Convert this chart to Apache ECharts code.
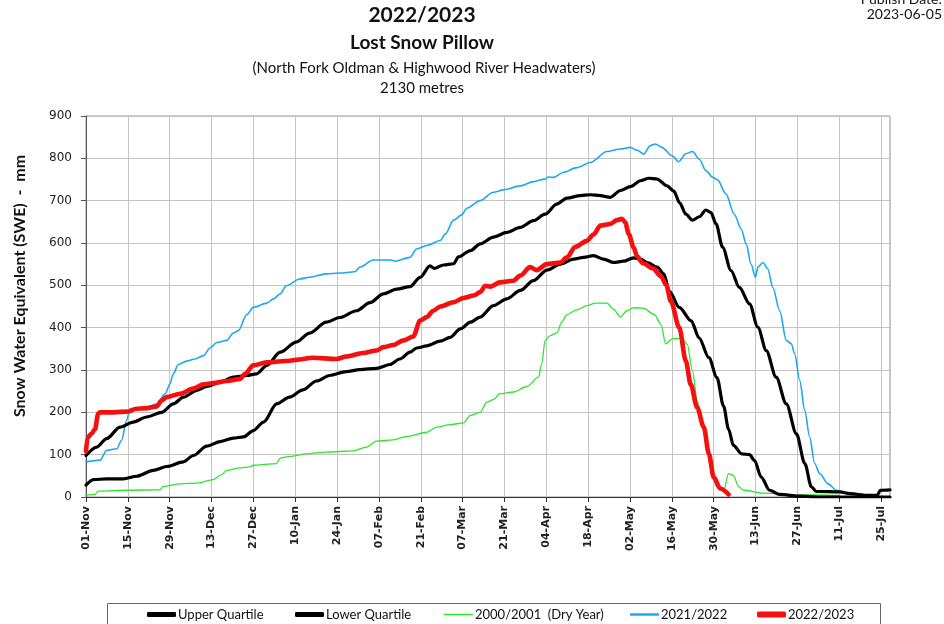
<!DOCTYPE html>
<html>
<head>
<meta charset="utf-8">
<title>Lost Snow Pillow 2022/2023</title>
<script src="https://cdn.jsdelivr.net/npm/echarts@6/dist/echarts.min.js"></script>
<style>
  html, body { margin: 0; padding: 0; background: #fff; }
  #chart { width: 944px; height: 624px; }
</style>
</head>
<body>
<div id="chart"></div>
<script>
// day 0 = 01-Nov-2022, values are SWE in mm
const startDate = [2022, 10, 1]
const monthNames = ['Jan', 'Feb', 'Mar', 'Apr', 'May', 'Jun', 'Jul', 'Aug', 'Sep', 'Oct', 'Nov', 'Dec']
const seriesNames = ['Upper Quartile', 'Lower Quartile', '2000/2001  (Dry Year)', '2021/2022', '2022/2023']

const upperQuartile = [
  [0, 98], [3.6, 118], [6.9, 138], [11.4, 165], [15.8, 177], [20.3, 189], [25.3, 200], [29.2, 220],
  [32.6, 236], [37.1, 252], [40.4, 261], [44.9, 271], [49.3, 283], [53.8, 287], [57.1, 291], [60.5, 311],
  [65, 342], [70.3, 366], [74.8, 387], [80.4, 413], [84.9, 424], [90.5, 440], [95, 459], [99.5, 480],
  [103.9, 491], [108.4, 497], [111.8, 519], [115.1, 546], [116.5, 540], [119.6, 548], [123, 551], [124.6, 567],
  [128.6, 582], [131.9, 598], [136.3, 614], [140.8, 625], [145.3, 637], [149.7, 653], [153.6, 668], [157.5, 692],
  [160.9, 706], [165.4, 712], [168.7, 714], [172.1, 712], [175.4, 708], [178.8, 724], [182.1, 733], [185.5, 747],
  [188.3, 753], [191.1, 751], [194.4, 735], [196.6, 723], [198.7, 694], [200.7, 668], [202.9, 654], [205.2, 662],
  [207.4, 678], [209.1, 672], [210.8, 645], [213, 590], [215.8, 535], [218.6, 495], [222, 456], [224.8, 401],
  [227.6, 346], [230.9, 283], [234.3, 220], [237.7, 149], [240.5, 79], [242.7, 24], [244.4, 13], [252.2, 12],
  [255.6, 8], [261.2, 4], [264.8, 4], [265.7, 16], [269, 17]
]

const lowerQuartile = [
  [0, 28], [2.5, 41], [6.9, 43], [12.5, 43], [17, 49], [22.5, 63], [27, 72], [32.6, 83], [35.9, 98],
  [40.4, 120], [44.9, 131], [49.3, 139], [52.7, 142], [56, 157], [59.4, 177], [63.8, 220], [68.1, 236],
  [72.6, 253], [77.1, 274], [81.5, 287], [87.1, 296], [91.6, 301], [97.2, 304], [101.7, 313], [105, 326],
  [108.4, 342], [110.6, 352], [114, 357], [118.5, 368], [121.8, 377], [125.2, 397], [128.6, 413], [131.9, 425],
  [136.3, 452], [140.8, 468], [145.3, 488], [149.7, 511], [154.2, 536], [158.7, 550], [163.1, 562], [166.5, 566],
  [169.8, 570], [173.2, 562], [176.5, 554], [179.9, 557], [183.2, 565], [185.5, 562], [188, 553], [191.1, 543],
  [193.3, 527], [195.2, 486], [198.5, 448], [202.5, 416], [205.1, 376], [208.4, 329], [211.1, 282], [213.3, 215],
  [215, 160], [216.6, 122], [219.4, 102], [222, 100], [223.7, 86], [225.9, 47], [228.7, 16], [232.1, 6],
  [238.8, 2], [245.5, 0], [269, 0]
]

const dryYear = [
  [0, 4], [3, 6], [4.1, 14], [13.6, 16], [24.8, 17], [25.9, 25], [31.5, 31], [37.1, 33], [42.6, 41],
  [45.4, 53], [47.1, 63], [51.6, 69], [54.9, 71], [56, 75], [63.8, 79], [65, 92], [68.3, 96], [73.7, 102],
  [80.4, 106], [89.4, 109], [93.9, 118], [97.2, 132], [102.8, 135], [107.3, 143], [114, 153], [117.4, 165],
  [121.8, 171], [126.3, 175], [128.6, 193], [131.9, 200], [134.1, 224], [136.3, 230], [138.5, 244], [143, 248],
  [147.5, 261], [151.4, 283], [152.5, 315], [153.6, 370], [155.3, 381], [157.5, 387], [159.2, 413], [160.9, 431],
  [164.2, 442], [167.6, 452], [170.4, 458], [174.3, 458], [176.5, 444], [178.8, 425], [181, 440], [183.2, 447],
  [186.4, 446], [190.2, 431], [192.4, 407], [193.9, 362], [196.3, 374], [199.6, 374], [201.2, 360], [202.9, 298],
  [204.5, 227], [207.3, 141], [209, 70], [211, 24], [213.3, 14], [215, 55], [216.6, 51], [218.3, 25],
  [220, 16], [226.5, 9], [237.7, 5], [252, 4]
]

const season2122 = [
  [0, 83], [4.7, 87], [6.9, 110], [10.3, 114], [11.9, 134], [13.6, 181], [14.7, 208], [20.3, 212], [23.7, 220],
  [26.5, 244], [28.1, 267], [29.2, 291], [30.9, 313], [33.7, 321], [36.5, 326], [39.3, 334], [41.5, 352],
  [43.8, 365], [47.1, 370], [49.3, 387], [51, 393], [53.8, 431], [56, 448], [60.5, 458], [62.7, 468], [65, 480],
  [67, 499], [71.5, 515], [74.8, 519], [80.4, 527], [84.9, 529], [89.9, 532], [91.6, 543], [96.1, 560],
  [101.7, 560], [103.4, 557], [108.4, 566], [110.6, 586], [114, 594], [118.5, 606], [120.2, 621], [123, 654],
  [125.8, 667], [127.4, 682], [131.9, 700], [136.3, 720], [140, 726], [145.3, 735], [149.7, 745], [153.6, 751],
  [154.7, 756], [156.4, 755], [159.8, 767], [164.2, 778], [168.7, 790], [174.3, 816], [178.8, 822], [182.1, 826],
  [184.4, 819], [186.6, 810], [188.8, 830], [190.5, 834], [192.7, 826], [196.1, 806], [198.3, 792], [200.7, 811],
  [202.9, 816], [205.2, 798], [207.4, 771], [209.7, 755], [211.3, 749], [214.1, 716], [216.9, 668], [219.2, 633],
  [220.9, 598], [222.5, 550], [224, 519], [224.8, 543], [226.5, 554], [228.1, 539], [229.8, 495], [232.1, 440],
  [234.3, 370], [236, 362], [237.1, 338], [238.8, 275], [240.5, 204], [242.1, 142], [243.8, 79], [245.5, 55],
  [248.3, 31], [251.1, 16], [253.3, 12]
]

const season2223 = [
  [0, 108], [0.5, 140], [1.9, 150], [3, 160], [4.1, 197], [4.7, 200], [9.2, 200], [14.2, 202], [16.4, 208],
  [20.3, 210], [23.7, 214], [25.3, 228], [27, 236], [31.5, 244], [35.9, 256], [39.3, 266], [42.6, 269],
  [47.1, 274], [51.6, 279], [53.2, 291], [56, 311], [60.5, 318], [68.3, 322], [70.3, 324], [75.9, 329],
  [83.8, 326], [87.1, 332], [92.7, 340], [97.2, 346], [99.5, 354], [102.8, 359], [106.2, 370], [109.5, 379],
  [111.8, 417], [114, 425], [116.2, 440], [118.5, 450], [123, 460], [126.3, 470], [129.7, 476], [131.9, 484],
  [133.6, 499], [135.3, 497], [138.5, 507], [143, 511], [145.3, 523], [148.6, 543], [150.8, 536], [154.2, 550],
  [158.7, 554], [160.9, 566], [163.7, 591], [167.6, 605], [169.8, 620], [172.1, 641], [175.4, 645], [177.7, 654],
  [179.3, 657], [180.4, 649], [181.6, 621], [183.2, 590], [184.4, 568], [186.4, 552], [189.7, 540], [192.4, 521],
  [194.1, 501], [195.7, 462], [198.5, 400], [200.7, 321], [202.3, 266], [204.5, 211], [206.7, 165], [208.4, 102],
  [210, 47], [212.2, 20], [215, 6]
]

const titleFont = 'Lato, "Open Sans", sans-serif'

function dayLabel (d) {
  const dt = new Date(startDate[0], startDate[1], startDate[2] + d)
  return String(dt.getDate()).padStart(2, '0') + '-' + monthNames[dt.getMonth()]
}

function lineSeries (name, data, color, width, z) {
  return {
    name: name,
    type: 'line',
    data: data,
    showSymbol: false,
    symbol: 'none',
    smooth: 0.3,
    smoothMonotone: 'x',
    z: z,
    itemStyle: { color: color },
    lineStyle: { color: color, width: width, cap: 'round', join: 'round' }
  }
}

// one legend per entry so each sits where the original puts it
function legendItem (name, left, barHeight) {
  return {
    data: [name],
    left: left,
    top: 608,
    padding: 0,
    icon: 'roundRect',
    itemWidth: 29,
    itemHeight: barHeight,
    itemGap: 0,
    textStyle: { fontFamily: titleFont, fontSize: 13, color: '#111', padding: [0, 0, 0, -3] }
  }
}

const chart = echarts.init(document.getElementById('chart'), null, { renderer: 'canvas' })

chart.setOption({
  animation: false,
  backgroundColor: '#fff',
  grid: {
    left: 86,
    right: 54,
    top: 116,
    bottom: 127,
    show: true,
    borderColor: '#999',
    borderWidth: 1
  },
  xAxis: {
    type: 'value',
    min: 0,
    max: 269,
    interval: 14,
    axisLine: { lineStyle: { color: '#333', width: 1 } },
    axisTick: { show: true, length: 5, lineStyle: { color: '#333' } },
    splitLine: { show: true, lineStyle: { color: '#c4c4c4', width: 1 } },
    axisLabel: {
      rotate: 90,
      margin: 9,
      showMaxLabel: false,
      fontFamily: 'DejaVu Sans',
      fontWeight: 'bold',
      fontSize: 11,
      color: '#222',
      formatter: function (v) { return dayLabel(v) }
    }
  },
  yAxis: {
    type: 'value',
    min: 0,
    max: 900,
    interval: 100,
    axisLine: { show: true, lineStyle: { color: '#555', width: 1 } },
    axisTick: { show: true, length: 5, lineStyle: { color: '#555' } },
    splitLine: { show: true, lineStyle: { color: '#c4c4c4', width: 1 } },
    axisLabel: {
      margin: 14,
      fontFamily: 'DejaVu Sans',
      fontSize: 12,
      color: '#222'
    }
  },
  legend: [
    legendItem(seriesNames[0], 147, 5),
    legendItem(seriesNames[1], 295, 5),
    legendItem(seriesNames[2], 444, 1.5),
    legendItem(seriesNames[3], 630, 2.5),
    legendItem(seriesNames[4], 757, 6)
  ],
  graphic: [
    { type: 'text', x: 422, y: 15, style: { text: '2022/2023', font: 'bold 21px ' + titleFont, fill: '#111', align: 'center', verticalAlign: 'middle' } },
    { type: 'text', x: 422, y: 43, style: { text: 'Lost Snow Pillow', font: 'bold 19px ' + titleFont, fill: '#111', align: 'center', verticalAlign: 'middle' } },
    { type: 'text', x: 424, y: 68, style: { text: '(North Fork Oldman & Highwood River Headwaters)', font: '15px ' + titleFont, fill: '#111', align: 'center', verticalAlign: 'middle' } },
    { type: 'text', x: 422, y: 88, style: { text: '2130 metres', font: '15px ' + titleFont, fill: '#111', align: 'center', verticalAlign: 'middle' } },
    { type: 'text', x: 942, y: -1, style: { text: 'Publish Date:', font: '14px ' + titleFont, fill: '#111', align: 'right', verticalAlign: 'middle' } },
    { type: 'text', x: 942, y: 14, style: { text: '2023-06-05', font: '14px ' + titleFont, fill: '#111', align: 'right', verticalAlign: 'middle' } },
    { type: 'text', x: 20, y: 286, rotation: Math.PI / 2, style: { text: 'Snow Water Equivalent (SWE)  -  mm', font: 'bold 16px ' + titleFont, fill: '#111', align: 'center', verticalAlign: 'middle' } },
    { type: 'rect', shape: { x: 107.5, y: 603.5, width: 773, height: 30 }, style: { fill: 'none', stroke: '#666', lineWidth: 1 }, z: -1 }
  ],
  series: [
    lineSeries(seriesNames[2], dryYear, '#2fe52f', 1.3, 2),
    lineSeries(seriesNames[3], season2122, '#1ea8ef', 1.6, 3),
    lineSeries(seriesNames[1], lowerQuartile, '#000', 3.2, 4),
    lineSeries(seriesNames[0], upperQuartile, '#000', 3.2, 5),
    lineSeries(seriesNames[4], season2223, '#f50f0f', 4.6, 6)
  ]
})
</script>
</body>
</html>
